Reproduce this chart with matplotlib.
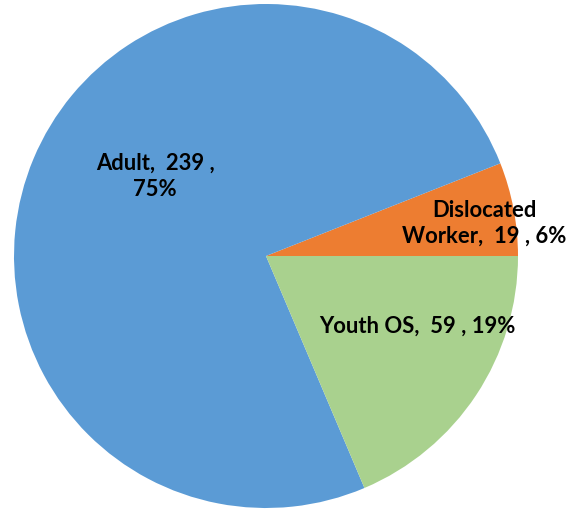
import matplotlib.pyplot as plt

# slice data (counter-clockwise from 3 o'clock)
labels = ["Dislocated\nWorker", "Adult", "Youth OS"]
counts = [19, 239, 59]
percents = [6, 75, 19]
colors = ["#ED7D31", "#5B9BD5", "#A9D18E"]

# label text and where it sits
texts = ["Dislocated\nWorker,  19 , 6%", "Adult,  239 ,\n75%", "Youth OS,  59 , 19%"]
text_pos = [(0.865, 0.13), (-0.44, 0.315), (0.60, -0.28)]


def figure():
    fig = plt.figure(figsize=(5.68, 5.12), dpi=100)
    cx, cy, r = 266, 256, 252
    ax = fig.add_axes([(cx - r) / 568, (512 - cy - r) / 512, 2 * r / 568, 2 * r / 512])

    ax.pie(counts, colors=colors, startangle=0, counterclock=True, radius=1,
           wedgeprops=dict(linewidth=0))

    for t, (x, y) in zip(texts, text_pos):
        ax.text(x, y, t, ha='center', va='center', fontsize=15.8, fontweight='bold',
                family=['Lato', 'DejaVu Sans'], color='black', linespacing=1.3)

    ax.set_xlim(-1, 1)
    ax.set_ylim(-1, 1)
    ax.set_aspect('equal')
    ax.axis('off')

    plt.savefig('out.png', dpi=100)


if __name__ == '__main__':
    figure()
